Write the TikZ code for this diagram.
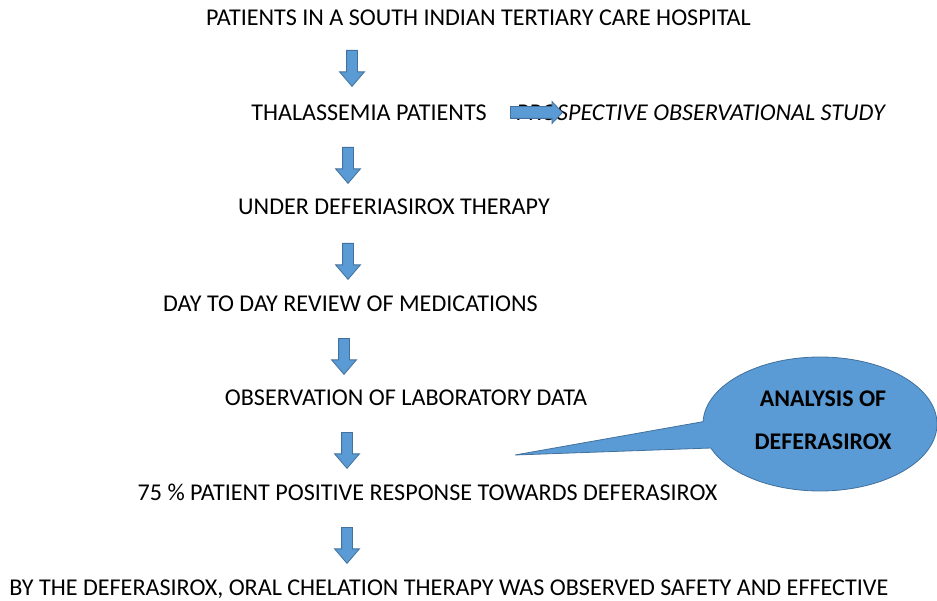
\documentclass[tikz,border=0pt]{standalone}
\usepackage{fontspec}
\setmainfont{Carlito}
\usetikzlibrary{shapes.arrows}
\definecolor{arrfill}{HTML}{5B9BD5}
\definecolor{arrline}{HTML}{41719C}
\begin{document}
\begin{tikzpicture}[x=1bp,y=-1bp,
  txt/.style={font=\fontsize{24.2}{29}\selectfont, inner sep=0pt, anchor=base},
  darrow/.style={single arrow, draw=arrline, fill=arrfill, line width=0.8bp,
    rotate=-90, minimum height=36bp, minimum width=24bp, inner xsep=0pt,
    inner ysep=5bp, single arrow head extend=7bp, single arrow tip angle=81,
    anchor=tail},
  rarrow/.style={single arrow, draw=arrline, fill=arrfill, line width=0.8bp,
    minimum height=52bp, minimum width=21bp, inner xsep=0pt,
    inner ysep=5.5bp, single arrow head extend=5bp, single arrow tip angle=93,
    anchor=tail},
  callout/.style={draw=arrline, fill=arrfill, line width=0.8bp}]
\useasboundingbox (0,0) rectangle (937,601);

\node[txt] (t1) at (478.5,25.5) {PATIENTS IN A SOUTH INDIAN TERTIARY CARE HOSPITAL};
\node[txt] (t2) at (369,120.5) {THALASSEMIA PATIENTS};
\node[txt, anchor=base east, font=\fontsize{24.2}{29}\selectfont\itshape] (t2r) at (885,120.5) {PROSPECTIVE OBSERVATIONAL STUDY};
\node[txt] (t3) at (394,214.5) {UNDER DEFERIASIROX THERAPY};
\node[txt] (t4) at (350.5,311) {DAY TO DAY REVIEW OF MEDICATIONS};
\node[txt] (t5) at (406,405.5) {OBSERVATION OF LABORATORY DATA};
\node[txt] (t6) at (427.5,500.5) {75 \% PATIENT POSITIVE RESPONSE TOWARDS DEFERASIROX};
\node[txt] (t7) at (449,595.5) {BY THE DEFERASIROX, ORAL CHELATION THERAPY WAS OBSERVED SAFETY AND EFFECTIVE};

\node[darrow] (a1) at (352,50) {};
\node[darrow] (a2) at (348,147) {};
\node[darrow] (a3) at (348,243) {};
\node[darrow] (a4) at (344,338) {};
\node[darrow] (a5) at (347,432) {};
\node[darrow] (a6) at (347,527) {};
\node[rarrow] (ar) at (510,112.5) {};

\draw[callout] (820,424) ++(182:117 and 67) coordinate (cb1)
  arc[start angle=182, end angle=519, x radius=117, y radius=67]
  coordinate (cb2) -- (515,455) coordinate (ctip) -- cycle;
\node[inner sep=0pt, align=center, font=\fontsize{24}{43}\selectfont\bfseries] (cl) at (823,420) {ANALYSIS OF\\DEFERASIROX};
\end{tikzpicture}
\end{document}
